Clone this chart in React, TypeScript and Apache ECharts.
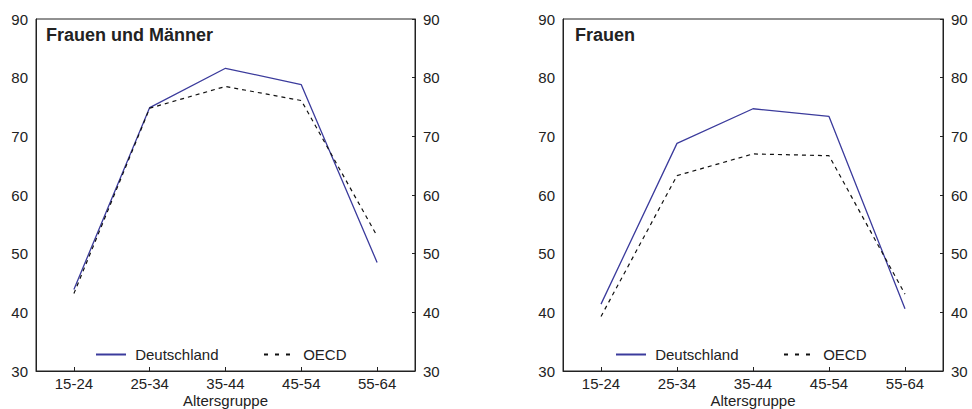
import React, { useEffect, useRef } from "react";
import * as echarts from "echarts";

const categories = ["15-24", "25-34", "35-44", "45-54", "55-64"];
const yTicks = [30, 40, 50, 60, 70, 80, 90];
const titles = ["Frauen und Männer", "Frauen"];
const seriesNames = ["Deutschland", "OECD"];
const deAll = [43.9, 74.9, 81.6, 78.8, 48.5];
const oecdAll = [43.2, 74.8, 78.5, 76.1, 53.0];
const deWomen = [41.4, 68.8, 74.7, 73.4, 40.6];
const oecdWomen = [39.3, 63.3, 67.0, 66.7, 43.1];

const TEXT = "#222";
const NAVY = "#3b3b9c";
const FONT = "Liberation Sans, Arial, Helvetica, sans-serif";
const NB = "\u00a0";

export default function App() {
  const ref = useRef<HTMLDivElement>(null);
  useEffect(() => {
    if (!ref.current) return;
    const chart = echarts.init(ref.current, null, { renderer: "svg" });
    const grids = [
      { left: 36, right: 972 - 415, top: 19, bottom: 409 - 371 },
      { left: 563, right: 972 - 943, top: 19, bottom: 409 - 371 },
    ];
    const panelData = [
      [deAll, oecdAll],
      [deWomen, oecdWomen],
    ];
    const offsets = [0, 520];
    const xAxis: any[] = [];
    const yAxis: any[] = [];
    const series: any[] = [];
    const legend: any[] = [];
    const title: any[] = [];
    grids.forEach((g, i) => {
      xAxis.push({
        type: "category",
        gridIndex: i,
        data: categories,
        boundaryGap: true,
        name: "Altersgruppe",
        nameLocation: "middle",
        nameGap: 22,
        nameMoveOverlap: false,
        nameTextStyle: { color: TEXT, fontSize: 15, lineHeight: 15, fontFamily: FONT },
        axisLine: { show: true, lineStyle: { color: TEXT, width: 1 } },
        axisTick: { show: true, inside: true, length: 4, alignWithLabel: true, lineStyle: { color: TEXT } },
        axisLabel: { color: TEXT, fontSize: 15, lineHeight: 15, fontFamily: FONT, margin: 5 },
        splitLine: { show: false },
      });
      ["left", "right"].forEach((pos) => {
        yAxis.push({
          type: "value",
          gridIndex: i,
          position: pos,
          min: yTicks[0],
          max: yTicks[yTicks.length - 1],
          interval: 10,
          axisLine: { show: true, lineStyle: { color: TEXT, width: 1 } },
          axisTick: { show: pos === "right", inside: true, length: 3, lineStyle: { color: TEXT } },
          axisLabel: { color: TEXT, fontSize: 15, fontFamily: FONT, margin: 8 },
          splitLine: { show: false },
        });
      });
      const [de, oe] = panelData[i];
      series.push({
        type: "line",
        name: seriesNames[0],
        xAxisIndex: i,
        yAxisIndex: i * 2,
        data: de,
        symbol: "none",
        lineStyle: { color: NAVY, width: 1.3 },
        itemStyle: { color: NAVY },
      });
      series.push({
        type: "line",
        name: seriesNames[1],
        xAxisIndex: i,
        yAxisIndex: i * 2,
        data: oe,
        symbol: "none",
        lineStyle: { color: "#111", width: 1.2, type: [4, 4] },
        itemStyle: { color: "#111" },
      });
      const off = offsets[i];
      legend.push({
        data: [seriesNames[0]],
        left: 90 + off,
        top: 342,
        itemWidth: 30,
        itemHeight: 14,
        selectedMode: false,
        itemStyle: { color: "transparent", borderWidth: 0, opacity: 0 },
        formatter: (n: string) => NB + n,
        textStyle: { color: TEXT, fontSize: 15, fontFamily: FONT },
      });
      legend.push({
        data: [seriesNames[1]],
        left: 258 + off,
        top: 342,
        itemWidth: 30,
        itemHeight: 14,
        selectedMode: false,
        itemStyle: { color: "transparent", borderWidth: 0, opacity: 0 },
        lineStyle: { type: [4, 7] },
        formatter: (n: string) => NB + n,
        textStyle: { color: TEXT, fontSize: 15, fontFamily: FONT },
      });
      title.push({
        text: titles[i],
        left: i === 0 ? 46 : 575,
        top: 26,
        padding: 0,
        textStyle: { color: TEXT, fontSize: 18, fontWeight: "bold", fontFamily: FONT },
      });
    });
    chart.setOption({
      animation: false,
      backgroundColor: "#fff",
      title,
      grid: grids.map((g) => ({
        ...g,
        outerBoundsMode: "none",
        containLabel: false,
        show: true,
        borderColor: TEXT,
        borderWidth: 1,
        backgroundColor: "transparent",
      })),
      xAxis,
      yAxis,
      legend,
      series,
    });
    return () => chart.dispose();
  }, []);
  return <div ref={ref} style={{ width: 972, height: 409, position: "fixed", left: 0, top: 0 }} />;
}
